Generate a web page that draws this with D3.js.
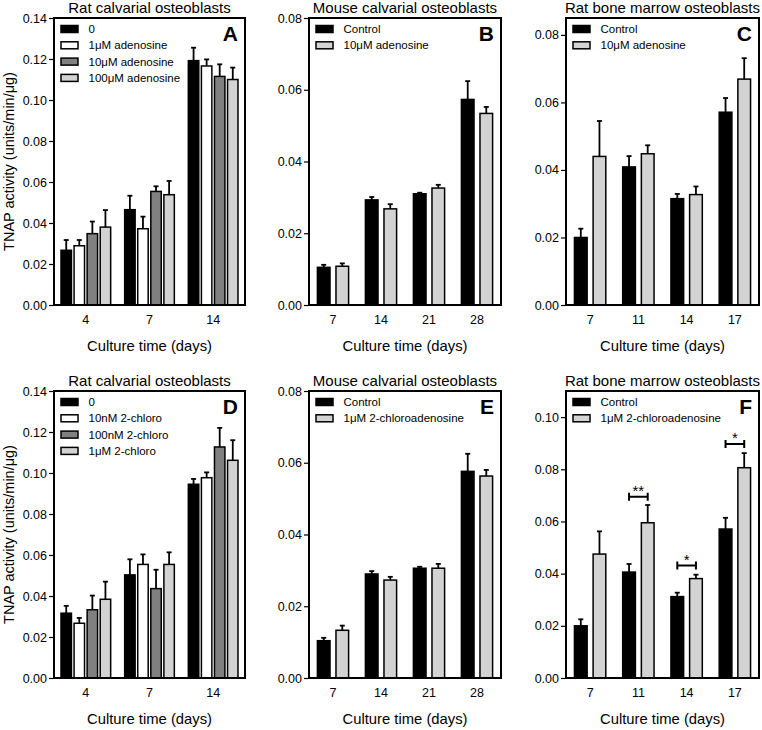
<!DOCTYPE html>
<html>
<head>
<meta charset="utf-8">
<script src="https://cdn.jsdelivr.net/npm/d3@7"></script>
<style>
  body { margin: 0; background: #fff; }
  text { font-family: "Liberation Sans", Arial, sans-serif; fill: #000; }
</style>
</head>
<body>
<svg id="chart" width="762" height="730"></svg>
<script>
/* global d3 */

// ---- data ----
var daysRat = ["4", "7", "14"];
var daysMouse = ["7", "14", "21", "28"];
var daysMarrow = ["7", "11", "14", "17"];

var seriesA = ["0", "1μM adenosine", "10μM adenosine", "100μM adenosine"];
var meanA = [[0.0267, 0.0465, 0.1192], [0.0289, 0.0372, 0.1166], [0.0348, 0.0554, 0.1115], [0.0380, 0.0538, 0.1100]];
var errA  = [[0.0050, 0.0068, 0.0063], [0.0028, 0.0059, 0.0032], [0.0059, 0.0025, 0.0059], [0.0083, 0.0067, 0.0058]];

var seriesB = ["Control", "10μM adenosine"];
var meanB = [[0.0105, 0.0293, 0.0310, 0.0573], [0.0108, 0.0268, 0.0326, 0.0534]];
var errB  = [[0.0007, 0.0008, 0.0003, 0.0051], [0.0008, 0.0013, 0.0009, 0.0018]];

var seriesC = ["Control", "10μM adenosine"];
var meanC = [[0.0200, 0.0409, 0.0315, 0.0571], [0.0440, 0.0448, 0.0327, 0.0669]];
var errC  = [[0.0026, 0.0032, 0.0014, 0.0042], [0.0105, 0.0025, 0.0024, 0.0062]];

var seriesD = ["0", "10nM 2-chloro", "100nM 2-chloro", "1μM 2-chloro"];
var meanD = [[0.0316, 0.0503, 0.0945], [0.0267, 0.0554, 0.0977], [0.0333, 0.0436, 0.1127], [0.0384, 0.0554, 0.1062]];
var errD  = [[0.0036, 0.0076, 0.0026], [0.0026, 0.0049, 0.0026], [0.0069, 0.0092, 0.0093], [0.0086, 0.0059, 0.0098]];

var seriesE = ["Control", "1μM 2-chloroadenosine"];
var meanE = [[0.0104, 0.0290, 0.0306, 0.0576], [0.0133, 0.0273, 0.0306, 0.0563]];
var errE  = [[0.0008, 0.0008, 0.0004, 0.0049], [0.0013, 0.0009, 0.0012, 0.0017]];

var seriesF = ["Control", "1μM 2-chloroadenosine"];
var meanF = [[0.0200, 0.0406, 0.0312, 0.0571], [0.0475, 0.0595, 0.0381, 0.0806]];
var errF  = [[0.0025, 0.0031, 0.0015, 0.0043], [0.0087, 0.0068, 0.0015, 0.0056]];

// significance brackets in F
var sigDaysF = ["11", "14", "17"];
var sigLevelF = [0.0695, 0.0431, 0.0897];
var sigLabelF = ["**", "*", "*"];

var ticksRat = [0, 0.02, 0.04, 0.06, 0.08, 0.10, 0.12, 0.14];
var ticksMouse = [0, 0.02, 0.04, 0.06, 0.08];
var ticksMarrowC = [0, 0.02, 0.04, 0.06, 0.08];
var ticksMarrowF = [0, 0.02, 0.04, 0.06, 0.08, 0.10];

var fills4 = ["#000000", "#ffffff", "#808080", "#d3d3d3"];
var fills2 = ["#000000", "#d3d3d3"];

var svg = d3.select('#chart');

var panels = [
  { letter: "A", title: "Rat calvarial osteoblasts", days: daysRat, series: seriesA, mean: meanA, err: errA,
    ymax: 0.14, ticks: ticksRat, left: 54, right: 245, top: 18, bottom: 305, fills: fills4, pad: 0.22, pad1: 0.2 },
  { letter: "B", title: "Mouse calvarial osteoblasts", days: daysMouse, series: seriesB, mean: meanB, err: errB,
    ymax: 0.08, ticks: ticksMouse, left: 309, right: 501, top: 18, bottom: 305, fills: fills2, pad: 0.35, pad1: 0.32 },
  { letter: "C", title: "Rat bone marrow osteoblasts", days: daysMarrow, series: seriesC, mean: meanC, err: errC,
    ymax: 0.085, ticks: ticksMarrowC, left: 566, right: 759, top: 18, bottom: 305, fills: fills2, pad: 0.35, pad1: 0.32 },
  { letter: "D", title: "Rat calvarial osteoblasts", days: daysRat, series: seriesD, mean: meanD, err: errD,
    ymax: 0.14, ticks: ticksRat, left: 54, right: 245, top: 391, bottom: 678, fills: fills4, pad: 0.22, pad1: 0.2, ytitle: true },
  { letter: "E", title: "Mouse calvarial osteoblasts", days: daysMouse, series: seriesE, mean: meanE, err: errE,
    ymax: 0.08, ticks: ticksMouse, left: 309, right: 501, top: 391, bottom: 678, fills: fills2, pad: 0.35, pad1: 0.32 },
  { letter: "F", title: "Rat bone marrow osteoblasts", days: daysMarrow, series: seriesF, mean: meanF, err: errF,
    ymax: 0.11, ticks: ticksMarrowF, left: 566, right: 759, top: 391, bottom: 678, fills: fills2, pad: 0.35, pad1: 0.32,
    sig: { days: sigDaysF, level: sigLevelF, label: sigLabelF } }
];
panels[0].ytitle = true;

panels.forEach(drawPanel);

function drawPanel(p) {
  var g = svg.append('g');

  var y = d3.scaleLinear().domain([0, p.ymax]).range([p.bottom, p.top]);
  var x0 = d3.scaleBand().domain(p.days).range([p.left, p.right])
    .paddingInner(p.pad).paddingOuter(p.pad / 2);
  var x1 = d3.scaleBand().domain(d3.range(p.series.length)).range([0, x0.bandwidth()])
    .paddingInner(p.pad1);
  var bw = x1.bandwidth();

  // bars + error bars
  p.series.forEach(function (s, j) {
    var rows = p.days.map(function (d, i) {
      return { day: d, v: p.mean[j][i], e: p.err[j][i] };
    });
    var sg = g.append('g');
    sg.selectAll('line.err')
      .data(rows).enter().append('line')
      .attr('x1', function (d) { return x0(d.day) + x1(j) + bw / 2; })
      .attr('x2', function (d) { return x0(d.day) + x1(j) + bw / 2; })
      .attr('y1', function (d) { return y(d.v); })
      .attr('y2', function (d) { return y(d.v + d.e); })
      .attr('stroke', '#000').attr('stroke-width', 1.8);
    sg.selectAll('line.cap')
      .data(rows).enter().append('line')
      .attr('x1', function (d) { return x0(d.day) + x1(j) + bw / 2 - 2.5; })
      .attr('x2', function (d) { return x0(d.day) + x1(j) + bw / 2 + 2.5; })
      .attr('y1', function (d) { return y(d.v + d.e); })
      .attr('y2', function (d) { return y(d.v + d.e); })
      .attr('stroke', '#000').attr('stroke-width', 1.8);
    sg.selectAll('rect')
      .data(rows).enter().append('rect')
      .attr('x', function (d) { return x0(d.day) + x1(j); })
      .attr('y', function (d) { return y(d.v); })
      .attr('width', bw)
      .attr('height', function (d) { return y(0) - y(d.v); })
      .attr('fill', p.fills[j])
      .attr('stroke', '#000').attr('stroke-width', 1.5);
  });

  // significance brackets
  if (p.sig) {
    p.sig.days.forEach(function (d, k) {
      var xa = x0(d) + x1(0) + bw / 2, xb = x0(d) + x1(1) + bw / 2, yy = y(p.sig.level[k]);
      g.append('path')
        .attr('d', 'M' + xa + ',' + (yy - 4) + 'V' + (yy + 4) + 'M' + xa + ',' + yy + 'H' + xb +
                   'M' + xb + ',' + (yy - 4) + 'V' + (yy + 4))
        .attr('fill', 'none').attr('stroke', '#000').attr('stroke-width', 2);
      g.append('text')
        .attr('x', (xa + xb) / 2).attr('y', yy - 1)
        .attr('text-anchor', 'middle').attr('font-size', '15px')
        .text(p.sig.label[k]);
    });
  }

  // frame
  g.append('rect')
    .attr('x', p.left).attr('y', p.top)
    .attr('width', p.right - p.left).attr('height', p.bottom - p.top)
    .attr('fill', 'none').attr('stroke', '#000').attr('stroke-width', 2);

  // y axis
  var ya = g.append('g')
    .attr('transform', 'translate(' + (p.left - 1) + ',0)')
    .call(d3.axisLeft(y).tickValues(p.ticks).tickFormat(d3.format('.2f')).tickSize(4).tickPadding(2));
  ya.select('.domain').remove();
  ya.selectAll('line').attr('stroke-width', 1.2);
  ya.selectAll('text').attr('font-size', '12.5px').attr('font-family', '"Liberation Sans", Arial, sans-serif');

  // x tick labels (no tick marks)
  g.selectAll('text.xt')
    .data(p.days).enter().append('text')
    .attr('x', function (d) { return x0(d) + x0.bandwidth() / 2; })
    .attr('y', p.bottom + 19)
    .attr('text-anchor', 'middle').attr('font-size', '12.5px')
    .text(function (d) { return d; });

  // axis titles
  g.append('text')
    .attr('x', (p.left + p.right) / 2).attr('y', p.bottom + 46)
    .attr('text-anchor', 'middle').attr('font-size', '14.8px')
    .text('Culture time (days)');
  if (p.ytitle) {
    g.append('text')
      .attr('transform', 'translate(14,' + (p.top + p.bottom) / 2 + ')rotate(-90)')
      .attr('text-anchor', 'middle').attr('font-size', '14.5px')
      .text('TNAP activity (units/min/μg)');
  }

  // panel title and letter
  g.append('text')
    .attr('x', (p.left + p.right) / 2).attr('y', p.top - 5)
    .attr('text-anchor', 'middle').attr('font-size', '15px')
    .text(p.title);
  g.append('text')
    .attr('x', p.right - 7).attr('y', p.top + 23)
    .attr('text-anchor', 'end').attr('font-size', '21px').attr('font-weight', 'bold')
    .text(p.letter);

  // legend
  var lg = g.selectAll('g.leg')
    .data(p.series).enter().append('g')
    .attr('transform', function (d, i) { return 'translate(' + (p.left + 7) + ',' + (p.top + 11 + i * 16.3) + ')'; });
  lg.append('rect')
    .attr('x', 0).attr('y', -3.5).attr('width', 17).attr('height', 7)
    .attr('fill', function (d, i) { return p.fills[i]; })
    .attr('stroke', '#000').attr('stroke-width', 1.5);
  lg.append('text')
    .attr('x', 27.5).attr('y', 4)
    .attr('font-size', '11.5px')
    .text(function (d) { return d; });
}
</script>
</body>
</html>
